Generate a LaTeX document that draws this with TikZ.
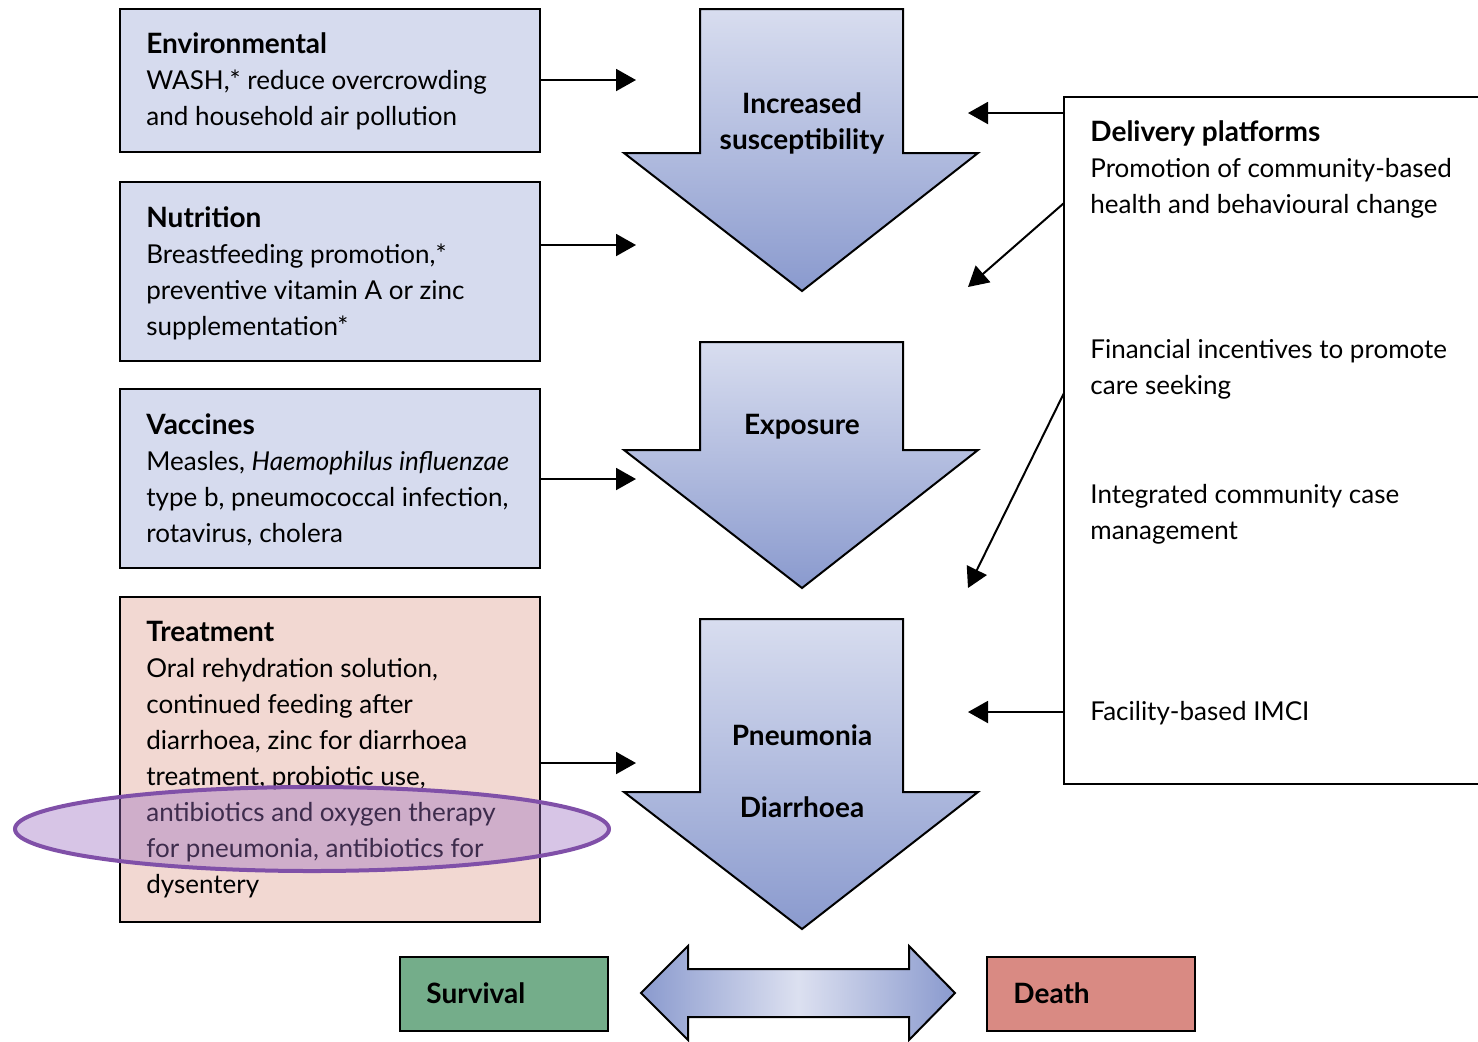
\documentclass[tikz,border=0pt]{standalone}
\usepackage{fontspec}
\setmainfont{Lato}
\usepackage{tkz-euclide}
\usetikzlibrary{arrows.meta}
\usetikzlibrary{positioning}

\definecolor{boxblue}{HTML}{D6DBEE}
\definecolor{boxpink}{HTML}{F2D8D2}
\definecolor{arrowtop}{HTML}{D8DDEF}
\definecolor{arrowbot}{HTML}{8A9ACE}
\definecolor{arrowmid}{HTML}{DCE0F0}
\definecolor{survgreen}{HTML}{74AD8A}
\definecolor{deathred}{HTML}{D98A83}
\definecolor{ringline}{HTML}{8050A8}
\definecolor{ringfill}{HTML}{9B6FC0}

\newcommand{\boxfont}{\fontsize{13}{18}\selectfont}
\newcommand{\headfont}{\fontsize{14}{18}\selectfont\bfseries}

\tikzset{
  box/.style     = {draw, line width=1.2pt, fill=boxblue},
  txt/.style     = {anchor=north west, inner sep=0pt, align=left, font=\boxfont},
  bigarrow/.style= {draw, line width=1pt, top color=arrowtop, bottom color=arrowbot},
  label/.style   = {inner sep=0pt, font=\headfont},
  link/.style    = {-{Triangle[length=10pt,width=11pt]}, line width=1pt}
}

\begin{document}
\begin{tikzpicture}[x=0.5pt, y=-0.5pt]
      \clip (0,0) rectangle (1478,1041);

      % intervention boxes
      \draw[box] (120,9) rectangle (540,152);
      \draw[box] (120,182) rectangle (540,361);
      \draw[box] (120,389) rectangle (540,568);
      \draw[box, fill=boxpink] (120,597) rectangle (540,922);

      \node[txt] (env) at (146,32) {{\headfont Environmental}\\WASH,* reduce overcrowding\\and household air pollution};
      \node[txt] (nut) at (146,206) {{\headfont Nutrition}\\Breastfeeding promotion,*\\preventive vitamin A or zinc\\supplementation*};
      \node[txt] (vac) at (146,413) {{\headfont Vaccines}\\Measles, \textit{Haemophilus influenzae}\\type b, pneumococcal infection,\\rotavirus, cholera};
      \node[txt] (trt) at (146,621) {{\headfont Treatment}\\Oral rehydration solution,\\continued feeding after\\diarrhoea, zinc for diarrhoea\\treatment, probiotic use,\\antibiotics and oxygen therapy\\for pneumonia, antibiotics for\\dysentery};

      % highlight
      \draw[ringline, line width=2pt, fill=ringfill, fill opacity=0.4] (312,829) ellipse [x radius=297, y radius=42];

      % big arrows
      \path[bigarrow] (700,9) -- (903,9) -- (903,153) -- (978,153) -- (802,291) -- (624,153) -- (700,153) -- cycle;
      \path[bigarrow] (700,342) -- (903,342) -- (903,450) -- (978,450) -- (802,588) -- (624,450) -- (700,450) -- cycle;
      \path[bigarrow] (700,619) -- (903,619) -- (903,792) -- (978,792) -- (802,929) -- (624,792) -- (700,792) -- cycle;

      \node[label, align=center] (sus) at (802,123) {Increased\\susceptibility};
      \node[label] (exp) at (802,427) {Exposure};
      \node[label] (pne) at (802,735) {Pneumonia};
      \node[label] (dia) at (802,807) {Diarrhoea};

      % delivery platforms
      \draw[line width=1.2pt] (1490,97) rectangle (1064,784);
      \node[txt] (del) at (1090,120) {{\headfont Delivery platforms}\\Promotion of community-based\\health and behavioural change};
      \node[txt] (fin) at (1090,339) {Financial incentives to promote\\care seeking};
      \node[txt] (icc) at (1090,484) {Integrated community case\\management};
      \node[txt] (imc) at (1090,701) {Facility-based IMCI};

      % outcome
      \path[draw, line width=1pt, left color=arrowbot, right color=arrowbot, middle color=arrowmid]
        (641,993) -- (688,946) -- (688,969) -- (909,969) -- (909,946) -- (955,993)
        -- (909,1040) -- (909,1017) -- (688,1017) -- (688,1040) -- cycle;
      \draw[line width=1.2pt, fill=survgreen] (400,957) rectangle (608,1031);
      \draw[line width=1.2pt, fill=deathred] (987,957) rectangle (1195,1031);
      \node[label, anchor=west] (srv) at (426,993) {Survival};
      \node[label, anchor=west] (dth) at (1013,993) {Death};

      % connectors
      \tkzDefPoints{540/80/Ea, 636/80/Eb, 540/245/Na, 636/245/Nb, 540/479/Va, 636/479/Vb, 540/763/Ta, 636/763/Tb}
      \tkzDefPoints{1064/113/Pa, 968/113/Pb, 1064/203/Qa, 968/287/Qb, 1064/393/Ra, 968/588/Rb, 1064/712/Sa, 968/712/Sb}
      \tkzDrawSegments[link](Ea,Eb Na,Nb Va,Vb Ta,Tb)
      \tkzDrawSegments[link](Pa,Pb Qa,Qb Ra,Rb Sa,Sb)
    \end{tikzpicture}
\end{document}
